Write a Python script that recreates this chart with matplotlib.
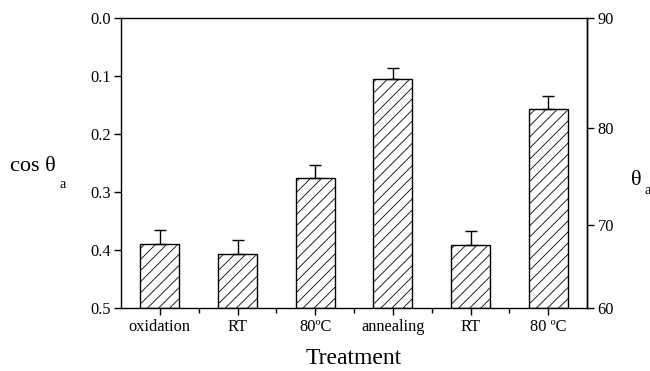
import numpy as np
import matplotlib
matplotlib.use("Agg")
import matplotlib.pyplot as plt
from matplotlib.ticker import FixedLocator

# data
treatments = ["oxidation", "RT", "80ºC", "annealing", "RT", "80 ºC"]
cos_theta = [0.391, 0.408, 0.276, 0.105, 0.392, 0.157]
cos_err = [0.025, 0.025, 0.022, 0.019, 0.025, 0.023]

# right-hand theta ticks and where they sit on the cos axis
theta_ticks = [60, 70, 80, 90]
theta_pos = [0.5, 0.357, 0.190, 0.0]
cos_ticks = [0.0, 0.1, 0.2, 0.3, 0.4, 0.5]

plt.rcParams["font.family"] = ["Liberation Serif", "DejaVu Serif"]
plt.rcParams["hatch.linewidth"] = 0.6

fig = plt.figure(figsize=(6.5, 3.71), dpi=100)
ax = fig.add_axes([0.1862, 0.171, 0.7169, 0.7797])

x = np.arange(len(treatments))
vals = np.array(cos_theta)
ax.bar(x, vals - 0.5, bottom=0.5, width=0.5, facecolor="white",
       edgecolor="black", linewidth=1.0, hatch="///")
ax.errorbar(x, vals, yerr=[cos_err, np.zeros(len(vals))], fmt="none",
            ecolor="black", elinewidth=1.0, capsize=4.5, capthick=1.0)

ax.set_xlim(-0.5, len(treatments) - 0.5)
ax.set_ylim(0.5, 0.0)
ax.set_yticks(cos_ticks)
ax.set_yticklabels([f"{v:.1f}" for v in cos_ticks])
ax.set_xticks(x)
ax.set_xticklabels(treatments)
ax.xaxis.set_minor_locator(FixedLocator(x[:-1] + 0.5))
ax.tick_params(axis="both", which="major", direction="out", length=5,
               width=1, labelsize=11.8, pad=2.5)
ax.tick_params(axis="x", which="minor", direction="out", length=3.5, width=1)
ax.tick_params(axis="x", which="major", pad=3.5)
for s in ax.spines.values():
    s.set_linewidth(1.0)

# right axis (theta)
sec = ax.secondary_yaxis(
    "right",
    functions=(lambda c: np.interp(c, theta_pos[::-1], theta_ticks[::-1]),
               lambda t: np.interp(t, theta_ticks, theta_pos)))
sec.set_yticks(theta_ticks)
sec.tick_params(direction="out", length=5, width=1, labelsize=11.8, pad=2.5)
sec.spines["right"].set_linewidth(1.0)

fig.text(0.015, 0.550, "cos θ", fontsize=16, va="center", ha="left")
fig.text(0.092, 0.502, "a", fontsize=10, va="center", ha="left")
fig.text(0.970, 0.513, "θ", fontsize=16, va="center", ha="left")
fig.text(0.991, 0.487, "a", fontsize=10, va="center", ha="left")

ax.set_xlabel("Treatment", fontsize=17, labelpad=9)

fig.savefig("out.png", dpi=100)
